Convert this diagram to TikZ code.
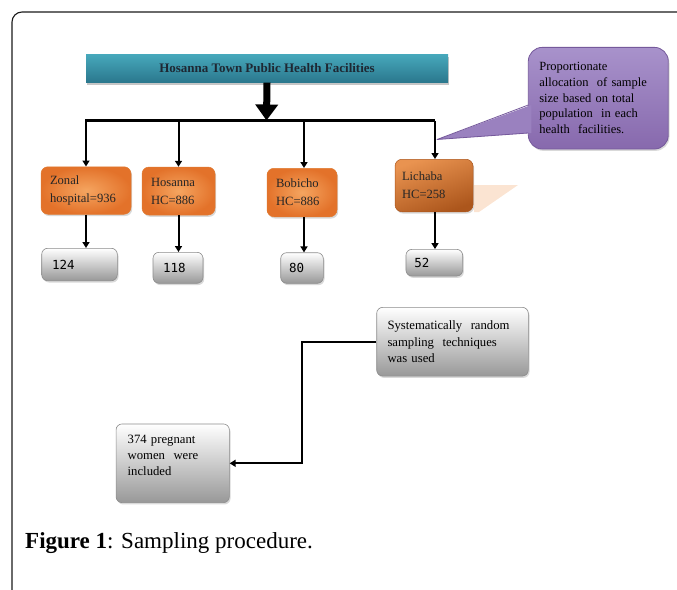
\documentclass[tikz,border=0pt]{standalone}
\usepackage{fontspec}
\setmainfont{Liberation Serif}
\newfontfamily\monof{DejaVu Sans Mono}
\usetikzlibrary{arrows.meta,shadows}
\definecolor{tealtop}{HTML}{46A8BB}
\definecolor{tealbot}{HTML}{2A778D}
\definecolor{titletext}{HTML}{1E2833}
\definecolor{orin}{HTML}{F5A560}
\definecolor{orout}{HTML}{E3722A}
\definecolor{orbd}{HTML}{E07A30}
\definecolor{lctop}{HTML}{E99350}
\definecolor{lcbot}{HTML}{AC561C}
\definecolor{grbot}{HTML}{989898}
\definecolor{grbd}{HTML}{8C8C8C}
\definecolor{pptop}{HTML}{A892CB}
\definecolor{ppmid}{HTML}{B6A3D6}
\definecolor{ppbot}{HTML}{8769AD}
\definecolor{ppbd}{HTML}{75599B}
\definecolor{ppfill}{HTML}{9A81BF}
\definecolor{peach}{HTML}{FBE4D2}
\definecolor{framec}{HTML}{1A1A1A}
\begin{document}
\begin{tikzpicture}[x=1pt,y=-1pt,
  shad/.style={drop shadow={shadow xshift=1.2pt,shadow yshift=-1.8pt,opacity=0.3}},
  titlebar/.style={top color=tealtop,bottom color=tealbot,inner sep=0pt,
    font=\fontsize{13}{15}\selectfont\bfseries,text=titletext,
    drop shadow={shadow xshift=0.5pt,shadow yshift=-2pt,opacity=0.45}},
  orbox/.style={rounded corners=7pt,draw=orbd,line width=0.5pt,inner color=orin,outer color=orout,
    inner sep=0pt,align=left,font=\fontsize{12.6}{18}\selectfont,text=black!85,shad},
  lcbox/.style={rounded corners=7pt,draw=lcbot,line width=0.5pt,top color=lctop,bottom color=lcbot,
    shading angle=20,inner sep=0pt,align=left,font=\fontsize{12.6}{18}\selectfont,text=black!85,shad},
  grbox/.style={rounded corners=6pt,draw=grbd,line width=0.6pt,top color=white,bottom color=grbot,
    inner sep=0pt,align=left,shad},
  numtext/.style={font=\monof\fontsize{12.5}{14}\selectfont},
  bodytext/.style={font=\fontsize{12.7}{16.3}\selectfont},
  callbox/.style={rounded corners=14pt,draw=ppbd,line width=0.8pt,top color=pptop,middle color=ppmid,
    bottom color=ppbot,inner sep=0pt,align=left,font=\fontsize{12.5}{15.7}\selectfont,shad},
  conn/.style={line width=2pt,draw=black,-{Triangle[width=7pt,length=6pt]}},
  busline/.style={line width=2.5pt,draw=black,line cap=rect}
]
\useasboundingbox (0,0) rectangle (677,589);
\clip (0,0) rectangle (677,589);
% frame
\draw[framec,line width=1.1pt,rounded corners=10pt] (12,620) -- (12,12) -- (700,12);

% faint shadow shape near Lichaba
\fill[peach] (474,185) -- (518,185) -- (479,212) -- (474,212) -- cycle;

% title
\node[titlebar,minimum width=362pt,minimum height=28pt] (title) at (267,68.5) {Hosanna Town Public Health Facilities};

% facility boxes
\node[orbox,minimum width=90pt,minimum height=47.5pt,text width=72pt] (zonal) at (86,190.5) {Zonal\\hospital=936};
\node[orbox,minimum width=73pt,minimum height=48pt,text width=55pt] (hosanna) at (178.5,191) {Hosanna\\HC=886};
\node[orbox,minimum width=70pt,minimum height=48.5pt,text width=52pt] (bobicho) at (302,192.5) {Bobicho\\HC=886};
\node[lcbox,minimum width=78pt,minimum height=52.5pt,text width=64pt] (lichaba) at (434,185.5) {Lichaba\\HC=258};

% sample boxes
\node[grbox,numtext,minimum width=75.6pt,minimum height=32.4pt,text width=55pt] (g124) at (79.5,264.5) {124};
\node[grbox,numtext,minimum width=50pt,minimum height=31pt,text width=30pt] (g118) at (178,267.8) {118};
\node[grbox,numtext,minimum width=42.6pt,minimum height=30.6pt,text width=26pt] (g80) at (302,268) {80};
\node[grbox,numtext,minimum width=56.7pt,minimum height=26.7pt,text width=40pt] (g52) at (434.3,262.7) {52};

% callout
\node[callbox,minimum width=140pt,minimum height=101.7pt,text width=118pt] (call) at (598.3,98.2)
  {Proportionate\\allocation\ \ of sample\\size based on total\\population\ \ in each\\health\ \ facilities.};
\coordinate (tip) at (437,139.5);
\coordinate (cbu) at (528.3,105);
\coordinate (cbl) at (528.3,133);
\fill[ppfill] (tip) -- ([xshift=3pt]cbu) -- ([xshift=3pt]cbl) -- cycle;
\draw[ppbd,line width=0.8pt,line join=round] (cbu) -- (tip) -- (cbl);

% lower boxes
\node[grbox,bodytext,minimum width=151.6pt,minimum height=68.7pt,text width=130pt] (syst) at (452.5,341.7)
  {Systematically\ \ random\\sampling\ \ techniques\\was used};
\node[grbox,bodytext,minimum width=113.3pt,minimum height=78.7pt,text width=90pt] (preg) at (172.7,463.3)
  {374 pregnant\\women\ \ were\\included\\\mbox{}};

% connectors
\coordinate (bus) at (266.5,120.5);
\draw[line width=7pt,-{Triangle[width=22pt,length=16pt]}] (title.south) -- (bus);
\draw[busline] (zonal.north |- bus) -- (lichaba.north |- bus);
\draw[conn] (zonal.north |- bus) -- (zonal.north);
\draw[conn] (hosanna.north |- bus) -- (hosanna.north);
\draw[conn] ([xshift=2pt]bobicho.north |- bus) -- ([xshift=2pt]bobicho.north);
\draw[conn] ([xshift=1pt]lichaba.north |- bus) -- ([xshift=1pt]lichaba.north);

\draw[conn] (zonal.south) -- (zonal.south |- g124.north);
\draw[conn] (hosanna.south) -- (hosanna.south |- g118.north);
\draw[conn] ([xshift=2pt]bobicho.south) -- ([xshift=2pt]bobicho.south |- g80.north);
\draw[conn] ([xshift=1pt]lichaba.south) -- ([xshift=1pt]lichaba.south |- g52.north);

\coordinate (bend) at (301.7,0);
\draw[conn,line join=miter] (syst.west) -- (bend |- syst.west) -- (bend |- preg.east) -- (preg.east);

% caption
\node[anchor=base west,inner sep=0pt,font=\fontsize{23}{27}\selectfont] (cap) at (25,548)
  {\textbf{Figure 1}: Sampling procedure.};
\end{tikzpicture}
\end{document}
